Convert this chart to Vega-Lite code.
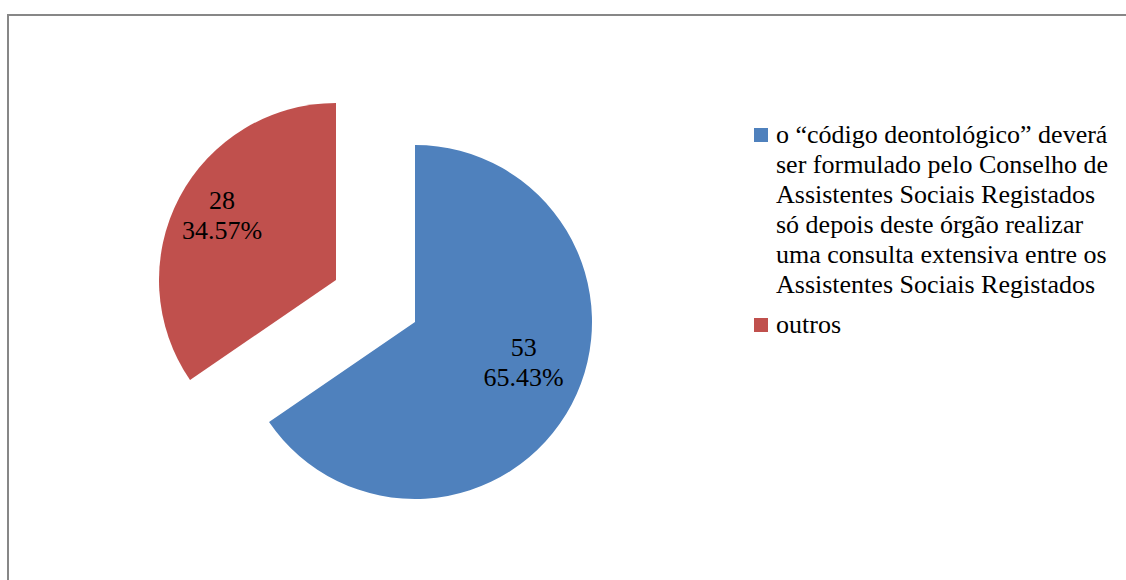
{
  "$schema": "https://vega.github.io/schema/vega-lite/v6.json",
  "autosize": {"type": "fit", "contains": "padding"},
  "width": 1126,
  "height": 580,
  "padding": {"left": 8, "top": 15, "right": -12, "bottom": -12},
  "background": "white",
  "view": {"stroke": "#878787", "strokeWidth": 2},
  "config": {
    "view": {"stroke": "#878787", "strokeWidth": 2},
    "style": {"guide-label": {"lineHeight": 30}}
  },
  "data": {
    "values": [
      {"cat": "o “código deontológico” deverá ser formulado pelo Conselho de Assistentes Sociais Registados só depois deste órgão realizar uma consulta extensiva entre os Assistentes Sociais Registados", "n": 53, "pct": "65.43%"},
      {"cat": "outros", "n": 28, "pct": "34.57%"}
    ]
  },
  "transform": [
    {"stack": "n", "groupby": [], "sort": [{"field": "n", "order": "descending"}], "as": ["t0", "t1"]},
    {"calculate": "(datum.t0 + datum.t1) / 2", "as": "tm"},
    {"calculate": "datum.n + '\\n' + datum.pct", "as": "lbl"}
  ],
  "layer": [
    {
      "transform": [{"filter": "datum.cat != 'outros'"}],
      "mark": {"type": "arc", "radius": 177, "xOffset": -158, "yOffset": 18.5},
      "encoding": {
        "theta": {"field": "t0", "type": "quantitative", "scale": {"domain": [0, 81]}},
        "theta2": {"field": "t1"},
        "color": {
          "field": "cat", "type": "nominal",
          "scale": {"domain": ["o “código deontológico” deverá ser formulado pelo Conselho de Assistentes Sociais Registados só depois deste órgão realizar uma consulta extensiva entre os Assistentes Sociais Registados", "outros"], "range": ["#4F81BD", "#C0504D"]},
          "legend": {
            "title": null, "orient": "none", "legendX": 740, "legendY": 107,
            "symbolType": "square", "symbolSize": 196, "symbolStrokeWidth": 0, "symbolOpacity": 1,
            "labelFont": "Liberation Serif, Times New Roman, serif", "labelFontSize": 26, "labelColor": "black", "labelLimit": 500, "labelOffset": 2, "rowPadding": 14,
            "labelExpr": "datum.label == 'outros' ? 'outros' : ['o “código deontológico” deverá', 'ser formulado pelo Conselho de', 'Assistentes Sociais Registados', 'só depois deste órgão realizar', 'uma consulta extensiva entre os', 'Assistentes Sociais Registados']"
          }
        }
      }
    },
    {
      "transform": [{"filter": "datum.cat != 'outros'"}],
      "mark": {"type": "text", "radius": 116, "xOffset": -158, "yOffset": 18.5, "dx": 6, "dy": -28, "font": "Liberation Serif, Times New Roman, serif", "fontSize": 26, "lineHeight": 30, "lineBreak": "\n", "align": "center", "baseline": "middle", "color": "black"},
      "encoding": {
        "theta": {"field": "tm", "type": "quantitative", "scale": {"domain": [0, 81]}},
        "text": {"field": "lbl"}
      }
    },
    {
      "transform": [{"filter": "datum.cat == 'outros'"}],
      "mark": {"type": "arc", "radius": 177, "xOffset": -237, "yOffset": -23.5},
      "encoding": {
        "theta": {"field": "t0", "type": "quantitative", "scale": {"domain": [0, 81]}},
        "theta2": {"field": "t1"},
        "color": {"field": "cat", "type": "nominal"}
      }
    },
    {
      "transform": [{"filter": "datum.cat == 'outros'"}],
      "mark": {"type": "text", "radius": 131, "xOffset": -237, "yOffset": -23.5, "dx": 2, "dy": -18, "font": "Liberation Serif, Times New Roman, serif", "fontSize": 26, "lineHeight": 30, "lineBreak": "\n", "align": "center", "baseline": "middle", "color": "black"},
      "encoding": {
        "theta": {"field": "tm", "type": "quantitative", "scale": {"domain": [0, 81]}},
        "text": {"field": "lbl"}
      }
    }
  ]
}
